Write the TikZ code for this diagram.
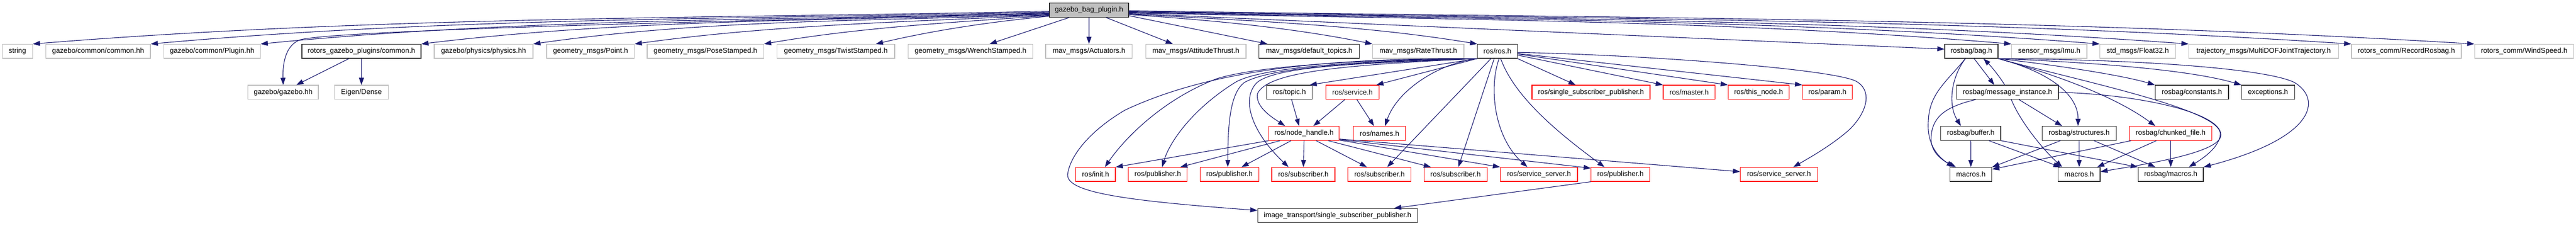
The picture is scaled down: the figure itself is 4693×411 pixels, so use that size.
\documentclass[tikz,border=0pt]{standalone}
\usepackage{fontspec}
\setmainfont{Liberation Sans}
\usetikzlibrary{arrows.meta}
\definecolor{edgec}{HTML}{191970}
\definecolor{grayb}{HTML}{BFBFBF}
\begin{document}
\begin{tikzpicture}[x=1pt,y=-1pt,
  box/.style={draw, line width=1.2pt, inner sep=0pt, minimum height=25.5pt, font=\fontsize{13}{15}\selectfont, anchor=center},
  gbox/.style={box, draw=grayb},
  kbox/.style={box, draw=black!80},
  rbox/.style={box, draw=red},
  rootbox/.style={box, draw=black!80, fill=grayb},
  e/.style={draw=edgec, line width=1.1pt, -{Triangle[length=13pt,width=9pt]}}]
\useasboundingbox (0,0) rectangle (4693,411);
% root
\node[rootbox, minimum width=144pt] (root) at (1984,18.5) {gazebo\_bag\_plugin.h};
% row 1
\node[gbox, minimum width=55pt] (string) at (31.8,93.3) {string};
\node[gbox, minimum width=190.7pt] (common) at (178.7,93.3) {gazebo/common/common.hh};
\node[gbox, minimum width=176pt] (plugin) at (386.3,93.3) {gazebo/common/Plugin.hh};
\node[kbox, minimum width=217pt] (rgp) at (658.5,93.3) {rotors\_gazebo\_plugins/common.h};
\node[gbox, minimum width=180pt] (physics) at (881,93.3) {gazebo/physics/physics.hh};
\node[gbox, minimum width=159.7pt] (point) at (1075.9,93.3) {geometry\_msgs/Point.h};
\node[gbox, minimum width=212.3pt] (pose) at (1285.2,93.3) {geometry\_msgs/PoseStamped.h};
\node[gbox, minimum width=214.7pt] (twist) at (1522.7,93.3) {geometry\_msgs/TwistStamped.h};
\node[gbox, minimum width=226.6pt] (wrench) at (1768,93.3) {geometry\_msgs/WrenchStamped.h};
\node[gbox, minimum width=157.7pt] (actuators) at (1983.9,93.3) {mav\_msgs/Actuators.h};
\node[gbox, minimum width=182.7pt] (attitude) at (2178.7,93.3) {mav\_msgs/AttitudeThrust.h};
\node[kbox, minimum width=183pt] (topics) at (2385.2,93.3) {mav\_msgs/default\_topics.h};
\node[gbox, minimum width=166.3pt] (rate) at (2583.9,93.3) {mav\_msgs/RateThrust.h};
\node[kbox, minimum width=72.6pt] (ros) at (2728,93.3) {ros/ros.h};
\node[kbox, minimum width=97pt] (bag) at (3591.5,93.3) {rosbag/bag.h};
\node[gbox, minimum width=137.3pt] (imu) at (3733.4,93.3) {sensor\_msgs/Imu.h};
\node[gbox, minimum width=137.6pt] (float) at (3894.5,93.3) {std\_msgs/Float32.h};
\node[gbox, minimum width=272.3pt] (multidof) at (4123.9,93.3) {trajectory\_msgs/MultiDOFJointTrajectory.h};
\node[gbox, minimum width=200pt] (record) at (4384,93.3) {rotors\_comm/RecordRosbag.h};
\node[gbox, minimum width=180.4pt] (wind) at (4598.5,93.3) {rotors\_comm/WindSpeed.h};
% row 2
\node[gbox, minimum width=128.3pt] (gazebo) at (515.9,167.8) {gazebo/gazebo.hh};
\node[gbox, minimum width=97.6pt] (eigen) at (658.5,167.8) {Eigen/Dense};
\node[kbox, minimum width=82.6pt] (topic) at (2349,167.8) {ros/topic.h};
\node[rbox, minimum width=97.4pt] (service) at (2464,167.8) {ros/service.h};
\node[rbox, minimum width=215pt] (ssp) at (2898.5,167.8) {ros/single\_subscriber\_publisher.h};
\node[rbox, minimum width=94.7pt] (master) at (3077.4,167.8) {ros/master.h};
\node[rbox, minimum width=111pt] (thisnode) at (3203.8,167.8) {ros/this\_node.h};
\node[rbox, minimum width=91pt] (param) at (3329.2,167.8) {ros/param.h};
\node[kbox, minimum width=185.7pt] (msginst) at (3657.2,167.8) {rosbag/message\_instance.h};
\node[kbox, minimum width=133.7pt] (constants) at (3993.2,167.8) {rosbag/constants.h};
\node[kbox, minimum width=96.3pt] (exceptions) at (4131.9,167.8) {exceptions.h};
% row 3
\node[rbox, minimum width=128pt] (nh) at (2375.7,242.5) {ros/node\_handle.h};
\node[rbox, minimum width=95pt] (names) at (2513.2,242.5) {ros/names.h};
\node[kbox, minimum width=109.3pt] (buffer) at (3590.4,242.5) {rosbag/buffer.h};
\node[kbox, minimum width=135pt] (structures) at (3787.8,242.5) {rosbag/structures.h};
\node[rbox, minimum width=149.6pt] (chunked) at (3954.5,242.5) {rosbag/chunked\_file.h};
% row 4
\node[rbox, minimum width=72.3pt] (init) at (1995.9,317.2) {ros/init.h};
\node[rbox, minimum width=107pt] (pubA) at (2109.2,317.2) {ros/publisher.h};
\node[rbox, minimum width=107pt] (pubB) at (2239.8,317.2) {ros/publisher.h};
\node[rbox, minimum width=115pt] (subA) at (2374.5,317.2) {ros/subscriber.h};
\node[rbox, minimum width=115pt] (subB) at (2513.2,317.2) {ros/subscriber.h};
\node[rbox, minimum width=115pt] (subC) at (2651.8,317.2) {ros/subscriber.h};
\node[rbox, minimum width=140.7pt] (ssA) at (2803.7,317.2) {ros/service\_server.h};
\node[rbox, minimum width=106.6pt] (pubC) at (2952,317.2) {ros/publisher.h};
\node[rbox, minimum width=140.6pt] (ssB) at (3241,317.2) {ros/service\_server.h};
\node[kbox, minimum width=76.4pt] (macA) at (3590.5,317.2) {macros.h};
\node[kbox, minimum width=76.3pt] (macB) at (3787.9,317.2) {macros.h};
\node[kbox, minimum width=118.7pt] (rbmac) at (3954.7,317.2) {rosbag/macros.h};
% row 5
\node[kbox, minimum width=291pt] (itssp) at (2436.8,392) {image\_transport/single\_subscriber\_publisher.h};

% ---- root edges, left
\draw[e] ([yshift=-2pt]root.west) .. controls +(-618,13) and +(618,-50) .. (string.north east);
\draw[e] ([yshift=-3.5pt]root.west) .. controls +(-546,13) and +(546,-49) .. (common.north east);
\draw[e] ([yshift=-5pt]root.west) .. controls +(-479,13) and +(479,-47) .. (plugin.north east);
\draw[e] ([yshift=-6pt]root.west) .. controls (1300,38) and (620,55) .. (548,72) .. controls (518,82) and (515,120) .. (gazebo.north);
\draw[e] ([yshift=-7pt]root.west) .. controls +(-382,12) and +(382,-46) .. (rgp.north east);
\draw[e] ([yshift=-8pt]root.west) .. controls +(-314,12) and +(314,-45) .. (physics.north east);
\draw[e] ([yshift=-9pt]root.west) .. controls +(-252,12) and +(252,-35) .. (point.north east);
\draw[e] ([yshift=-10pt]root.west) .. controls +(-174,12) and +(174,-30) .. (pose.north east);
\draw[e] ([yshift=-11pt]root.west) .. controls +(-106,10) and +(106,-25) .. ([xshift=-35pt]twist.north east);
\draw[e] ([xshift=-36pt]root.south) -- ([xshift=-79pt]wrench.north east);
\draw[e] (root.south) -- (actuators.north);
\draw[e] ([xshift=31pt]root.south) -- ([xshift=-42pt]attitude.north);
% ---- root edges, right
\draw[e] ([yshift=-10pt]root.east) -- ([xshift=16pt]topics.north west);
\draw[e] ([yshift=-8pt]root.east) .. controls +(148,10) and +(-148,-30) .. (rate.north west);
\draw[e] ([yshift=-7pt]root.east) .. controls +(212,12) and +(-212,-35) .. (ros.north west);
\draw[e] ([yshift=-6pt]root.east) -- ([yshift=4pt]bag.west);
\draw[e] ([yshift=-5pt]root.east) .. controls +(536,12) and +(-536,-45) .. (imu.north west);
\draw[e] ([yshift=-4pt]root.east) .. controls +(590,12) and +(-590,-46) .. (float.north west);
\draw[e] ([yshift=-3pt]root.east) .. controls +(644,12) and +(-644,-47) .. (multidof.north west);
\draw[e] ([yshift=-2pt]root.east) .. controls +(743,13) and +(-743,-48) .. (record.north west);
\draw[e] ([yshift=-1pt]root.east) .. controls +(817,13) and +(-817,-49) .. (wind.north west);
% ---- rotors common
\draw[e] ([xshift=-23pt]rgp.south) -- ([xshift=24pt]gazebo.north);
\draw[e] (rgp.south) -- (eigen.north);
% ---- ros.h edges
\draw[e] (ros.south west) -- ([xshift=-5pt]topic.north east);
\draw[e] (ros.south west) -- ([xshift=-6pt]service.north east);
\draw[e] (ros.south west) .. controls (2620,115) and (2545,165) .. ([xshift=10pt]names.north);
\draw[e] (ros.south west) .. controls (2450,118) and (2310,130) .. (2291,170) .. controls (2286,195) and (2320,215) .. ([xshift=30pt]nh.north west);
\draw[e] (ros.south west) .. controls (2500,108) and (2300,118) .. (2217,143) .. controls (2120,180) and (2050,250) .. ([xshift=17pt]init.north);
\draw[e] (ros.south west) .. controls (2500,110) and (2300,120) .. (2250,150) .. controls (2170,200) and (2130,260) .. ([xshift=8pt]pubA.north);
\draw[e] (ros.south west) .. controls (2500,112) and (2320,120) .. (2267,150) .. controls (2240,170) and (2237,230) .. ([xshift=-3pt]pubB.north);
\draw[e] (ros.south west) .. controls (2500,115) and (2330,118) .. (2290,150) .. controls (2260,180) and (2280,240) .. ([xshift=-27pt]subA.north);
\draw[e] (ros.south west) .. controls (2400,105) and (2200,130) .. (2050,200) .. controls (1990,235) and (1950,280) .. (1945,317) .. controls (1942,350) and (2050,365) .. ([yshift=-4pt]itssp.north west);
\draw[e] ([xshift=25pt]ros.south west) -- ([xshift=14pt]subB.north);
\draw[e] ([xshift=31pt]ros.south west) -- ([xshift=5pt]subC.north);
\draw[e] ([xshift=3pt]ros.south) .. controls (2712,160) and (2722,250) .. ([xshift=-21pt]ssA.north);
\draw[e] ([xshift=6pt]ros.south) .. controls (2760,180) and (2850,250) .. ([xshift=-29pt]pubC.north);
\draw[e] (ros.south east) -- ([xshift=-28pt]ssp.north);
\draw[e] ([yshift=-7pt]ros.east) -- (master.north west);
\draw[e] ([yshift=-5pt]ros.east) -- (thisnode.north west);
\draw[e] ([yshift=-4pt]ros.east) -- (param.north west);
\draw[e] ([yshift=-2pt]ros.east) .. controls (3000,100) and (3330,125) .. (3380,147) .. controls (3410,162) and (3405,200) .. (3370,235) .. controls (3340,262) and (3300,285) .. ([xshift=26pt]ssB.north);
% ---- topic / service
\draw[e] ([xshift=4pt]topic.south) -- ([xshift=-9pt]nh.north);
\draw[e] ([xshift=-14pt]service.south) -- ([xshift=17pt]nh.north);
\draw[e] ([xshift=8pt]service.south) -- ([xshift=-10pt]names.north);
% ---- node_handle
\draw[e] (nh.south west) -- (init.north east);
\draw[e] ([xshift=21pt]nh.south west) -- ([xshift=41pt]pubA.north);
\draw[e] ([xshift=41pt]nh.south west) -- ([xshift=22pt]pubB.north);
\draw[e] (nh.south) -- (subA.north);
\draw[e] ([xshift=22pt]nh.south) -- ([xshift=-23pt]subB.north);
\draw[e] ([xshift=44pt]nh.south) -- ([xshift=-45pt]subC.north);
\draw[e] ([yshift=1pt]nh.south east) -- (ssA.north west);
\draw[e] ([yshift=2pt]nh.south east) -- ([yshift=-2pt]pubC.north west);
\draw[e] ([yshift=3pt]nh.south east) -- ([yshift=5pt]ssB.west);
\draw[e] (pubC.south west) -- ([xshift=103pt]itssp.north);
% ---- rosbag
\draw[e] ([xshift=5pt]bag.south) -- ([xshift=-24pt]msginst.north);
\draw[e] ([xshift=-5pt]msginst.north) .. controls (3640,135) and (3625,118) .. ([xshift=22pt]bag.south);
\draw[e] ([xshift=-11pt]bag.south) .. controls (3555,140) and (3548,190) .. ([xshift=-18pt]buffer.north);
\draw[e] ([xshift=-11pt]bag.south) .. controls (3545,150) and (3515,170) .. (3513,220) .. controls (3510,262) and (3530,285) .. ([xshift=-31pt]macA.north);
\draw[e] ([xshift=-58pt]msginst.south) .. controls (3540,195) and (3520,215) .. (3518,250) .. controls (3517,275) and (3535,290) .. ([xshift=-27pt]macA.north);
\draw[e] ([xshift=21pt]msginst.south) -- ([xshift=-31pt]structures.north);
\draw[e] ([xshift=7pt]msginst.south) .. controls (3680,220) and (3720,270) .. ([xshift=-31pt]macB.north);
\draw[e] (bag.south east) .. controls (3730,130) and (3786,170) .. ([xshift=-2pt]structures.north);
\draw[e] (bag.south east) .. controls (3760,140) and (3860,180) .. ([xshift=-28pt]chunked.north);
\draw[e] (bag.south east) .. controls (3760,120) and (3870,138) .. (constants.north west);
\draw[e] (bag.south east) .. controls (3850,115) and (4000,130) .. (exceptions.north west);
\draw[e] (bag.south east) .. controls (3900,108) and (4130,125) .. (4180,150) .. controls (4230,180) and (4220,250) .. (rbmac.north east);
\draw[e] (bag.south east) .. controls (3800,150) and (4050,200) .. (4045,245) .. controls (4042,270) and (4010,290) .. ([xshift=33pt]rbmac.north);
\draw[e] (msginst.east) .. controls (3900,172) and (4045,205) .. (4046,245) .. controls (4048,278) and (3900,300) .. ([yshift=5pt]macB.east);
\draw[e] ([xshift=-34pt]structures.south) -- (macA.north east);
\draw[e] (structures.south) -- (macB.north);
\draw[e] ([xshift=27pt]structures.south) -- ([xshift=-28pt]rbmac.north);
\draw[e] (buffer.south) -- (macA.north);
\draw[e] ([xshift=33pt]buffer.south) -- ([xshift=-34pt]macB.north);
\draw[e] (buffer.south east) -- (rbmac.north west);
\draw[e] ([xshift=-72pt]chunked.south) -- ([yshift=-4pt]macA.north east);
\draw[e] ([xshift=-26pt]chunked.south) -- ([xshift=-6pt]macB.north east);
\draw[e] (chunked.south) -- (rbmac.north);
\end{tikzpicture}
\end{document}
